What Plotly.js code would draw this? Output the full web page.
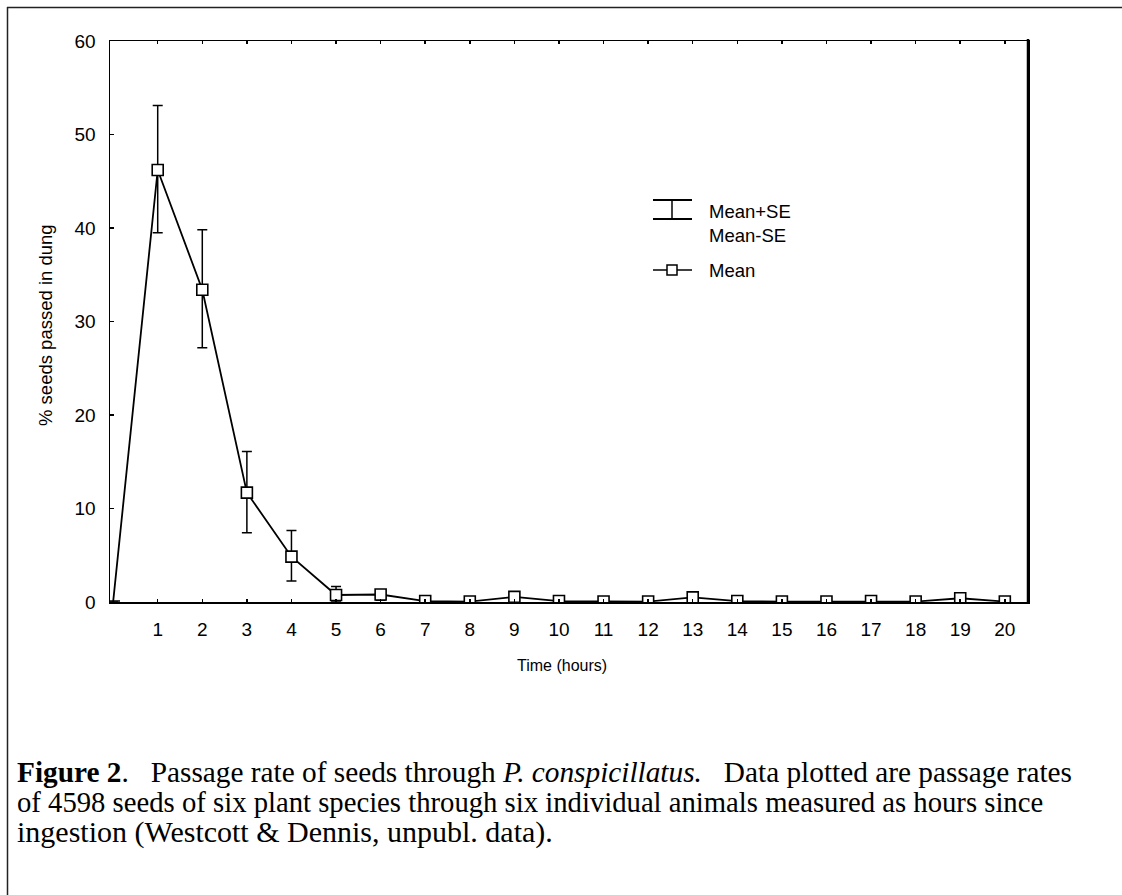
<!DOCTYPE html>
<html>
<head>
<meta charset="utf-8">
<script src="https://cdn.plot.ly/plotly-3.0.1.min.js"></script>
<style>
  html, body { margin: 0; padding: 0; background: #fff; }
  #wrap { position: relative; width: 1122px; height: 895px; overflow: hidden; }
  #chart { width: 1122px; height: 895px; }
  #caption { position: absolute; left: 17px; top: 758px; font-family: "Liberation Serif", "Times New Roman", serif; color: #000; white-space: nowrap; }
  #caption div { height: 29.5px; line-height: 29.5px; }
</style>
</head>
<body>
<div id="wrap">
  <div id="chart"></div>
  <div id="caption"></div>
</div>
<script>
// ---- data ----
const hours     = [0, 1, 2, 3, 4, 5, 6, 7, 8, 9, 10, 11, 12, 13, 14, 15, 16, 17, 18, 19, 20];
const meanPct   = [0, 46.2, 33.4, 11.7, 4.85, 0.75, 0.8, 0.1, 0.05, 0.55, 0.1, 0.05, 0.05, 0.5, 0.1, 0.05, 0.05, 0.1, 0.05, 0.4, 0.05];
const seUpper   = [0, 6.9, 6.4, 4.4, 2.8, 0.9, 0.4, 0.1, 0.05, 0.2, 0.05, 0.05, 0.05, 0.2, 0.1, 0.05, 0.05, 0.1, 0.05, 0.2, 0.05];
const seLower   = [0, 6.7, 6.2, 4.3, 2.6, 0.75, 0.6, 0.1, 0.05, 0.3, 0.1, 0.05, 0.05, 0.3, 0.1, 0.05, 0.05, 0.1, 0.05, 0.3, 0.05];
const xTickVals = [1, 2, 3, 4, 5, 6, 7, 8, 9, 10, 11, 12, 13, 14, 15, 16, 17, 18, 19, 20];
const xTickText = ['1','2','3','4','5','6','7','8','9','10','11','12','13','14','15','16','17','18','19','20'];
const yTickVals = [0, 10, 20, 30, 40, 50, 60];
const legendErrText = 'Mean+SE<br>Mean-SE';
const legendMeanText = 'Mean';
const xTitle = 'Time (hours)';
const yTitle = '% seeds passed in dung';
const captionLines = [
  '<b>Figure 2</b>.\u00a0\u00a0 Passage rate of seeds through <i>P. conspicillatus.</i>\u00a0\u00a0 Data plotted are passage rates',
  'of 4598 seeds of six plant species through six individual animals measured as hours since',
  'ingestion (Westcott &amp; Dennis, unpubl. data).'
];

// ---- caption (HTML text under the chart) ----
const capSize = [29.3, 28.7, 30];
document.getElementById('caption').innerHTML =
  captionLines.map((t, i) => '<div style="font-size:' + capSize[i] + 'px">' + t + '</div>').join('');

// ---- layout geometry (pixels) ----
const W = 1122, H = 895;
const L = 110, R = 1028, T = 41, B = 602;
const pw = R - L, ph = B - T;
const px = v => (v - L) / pw;   // pixel -> paper x
const py = v => (B - v) / ph;   // pixel -> paper y

const SANS = '"Liberation Sans", Arial, sans-serif';

const lineTrace = {
  x: hours, y: meanPct,
  type: 'scatter', mode: 'lines',
  line: { color: '#000', width: 1.8 },
  error_y: { type: 'data', symmetric: false, array: seUpper, arrayminus: seLower,
             color: '#000', thickness: 1.5, width: 5 },
  cliponaxis: true, showlegend: false, hoverinfo: 'skip'
};
const markerTrace = {
  x: hours.slice(1), y: meanPct.slice(1),
  type: 'scatter', mode: 'markers',
  marker: { symbol: 'square', size: 11, color: '#fff', line: { color: '#000', width: 1.6 } },
  cliponaxis: true, showlegend: false
};

const shapes = [
  // outer frame (top and left edges)
  { type: 'line', xref: 'paper', yref: 'paper', x0: px(7), x1: px(1125), y0: py(7.5), y1: py(7.5), line: { color: '#222', width: 1.5 } },
  { type: 'line', xref: 'paper', yref: 'paper', x0: px(7.5), x1: px(7.5), y0: py(7), y1: py(900), line: { color: '#222', width: 1.5 } },
  // heavier right axis
  { type: 'line', xref: 'paper', yref: 'paper', x0: 1, x1: 1, y0: 0, y1: py(39), line: { color: '#000', width: 2.5 } },
  // small cap at the origin point
  { type: 'line', xref: 'paper', yref: 'paper', x0: px(109), x1: px(120), y0: py(601), y1: py(601), line: { color: '#000', width: 1.5 } },
  // legend: error bar glyph
  { type: 'line', xref: 'paper', yref: 'paper', x0: px(653), x1: px(692), y0: py(200), y1: py(200), line: { color: '#000', width: 2 } },
  { type: 'line', xref: 'paper', yref: 'paper', x0: px(653), x1: px(692), y0: py(219), y1: py(219), line: { color: '#000', width: 2 } },
  { type: 'line', xref: 'paper', yref: 'paper', x0: px(672), x1: px(672), y0: py(200), y1: py(219), line: { color: '#000', width: 1.5 } },
  // legend: mean glyph
  { type: 'line', xref: 'paper', yref: 'paper', x0: px(653), x1: px(692), y0: py(270), y1: py(270), line: { color: '#000', width: 1.5 } },
  { type: 'rect', xref: 'paper', yref: 'paper', x0: px(667), x1: px(677), y0: py(265), y1: py(275), fillcolor: '#fff', line: { color: '#000', width: 1.5 } }
];

const annotations = [
  { xref: 'paper', yref: 'paper', x: px(707), y: py(224), xanchor: 'left', yanchor: 'middle', align: 'left',
    text: legendErrText, showarrow: false, font: { family: SANS, size: 18.5, color: '#000' } },
  { xref: 'paper', yref: 'paper', x: px(707), y: py(270), xanchor: 'left', yanchor: 'middle', align: 'left',
    text: legendMeanText, showarrow: false, font: { family: SANS, size: 18.5, color: '#000' } },
  { xref: 'paper', yref: 'paper', x: px(562), y: py(665), xanchor: 'center', yanchor: 'middle',
    text: xTitle, showarrow: false, font: { family: SANS, size: 16, color: '#000' } },
  { xref: 'paper', yref: 'paper', x: px(45), y: py(325), xanchor: 'center', yanchor: 'middle', textangle: -90,
    text: yTitle, showarrow: false, font: { family: SANS, size: 18.5, color: '#000' } }
];

const layout = {
  width: W, height: H,
  margin: { l: L, r: W - R, t: T, b: H - B, pad: 0 },
  paper_bgcolor: 'rgba(0,0,0,0)', plot_bgcolor: '#fff',
  showlegend: false,
  xaxis: {
    range: [-0.07, 20.52], tickmode: 'array', tickvals: xTickVals, ticktext: xTickText,
    ticks: 'inside', ticklen: 3, tickwidth: 1.5, tickcolor: '#000',
    showline: true, linecolor: '#000', linewidth: 1.5, mirror: 'ticks',
    showgrid: false, zeroline: false, ticklabelstandoff: 10,
    tickfont: { family: SANS, size: 19, color: '#000' }
  },
  yaxis: {
    range: [0, 60], tickmode: 'array', tickvals: yTickVals,
    ticks: 'inside', ticklen: 4, tickwidth: 1.5, tickcolor: '#000',
    showline: true, linecolor: '#000', linewidth: 1.5, mirror: true,
    showgrid: false, zeroline: false, ticklabelstandoff: 9,
    tickfont: { family: SANS, size: 19, color: '#000' }
  },
  shapes: shapes,
  annotations: annotations
};

Plotly.newPlot('chart', [lineTrace, markerTrace], layout, { staticPlot: true, displayModeBar: false });
</script>
</body>
</html>
